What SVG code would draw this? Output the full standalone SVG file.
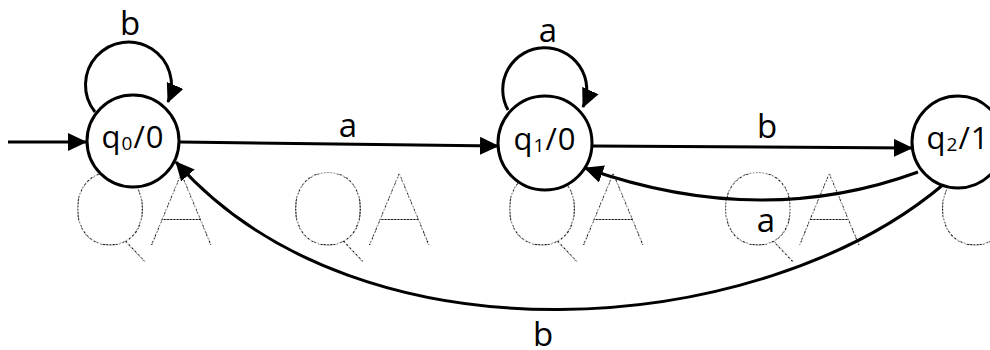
<svg xmlns="http://www.w3.org/2000/svg" width="990" height="350" viewBox="0 0 990 350">
<style>
.wm{font-family:"Lato","Roboto","Inter",sans-serif;font-weight:100;font-size:102px;fill:url(#dots)}
.st{fill:#fff;stroke:#000;stroke-width:3}
.lb{font-family:"Open Sans","Noto Sans",sans-serif;font-size:33px;fill:#000;text-anchor:middle}
.sl{font-family:"Open Sans","Noto Sans",sans-serif;font-size:31px;fill:#000;text-anchor:middle;letter-spacing:1px}
.sub{font-size:19px}
.e{fill:none;stroke:#000;stroke-width:3}
</style>
<defs>
<pattern id="dots" patternUnits="userSpaceOnUse" width="3.2" height="3.2">
<circle cx="1.6" cy="1.6" r="1.3" fill="#111"/>
</pattern>
<marker id="ah" markerUnits="userSpaceOnUse" markerWidth="20" markerHeight="18" refX="18" refY="9" orient="auto">
<path d="M0,0 L19,9 L0,18 Z" fill="#000"/>
</marker>
</defs>
<rect width="990" height="350" fill="#fff"/>
<g id="watermark">
<text class="wm" x="-146" y="245">QA</text>
<text class="wm" x="70" y="245">QA</text>
<text class="wm" x="288" y="245">QA</text>
<text class="wm" x="502" y="245">QA</text>
<text class="wm" x="718" y="245">QA</text>
<text class="wm" x="935" y="245">QA</text>
</g>
<g id="connectors">
<path class="e" d="M8,142 L86,142" marker-end="url(#ah)"/>
<path class="e" d="M180,142 L498,146" marker-end="url(#ah)"/>
<path class="e" d="M592,146 L912,148" marker-end="url(#ah)"/>
<path class="e" d="M918,172 Q760,230 585,168" marker-end="url(#ah)"/>
<path class="e" d="M944,184 C760,340 360,370 176,162" marker-end="url(#ah)"/>
<path class="e" d="M95,112 A43 43 0 1 1 168,102" marker-end="url(#ah)"/>
<path class="e" d="M508,110 A42 42 0 1 1 583,107" marker-end="url(#ah)"/>
<text class="lb" x="130" y="35">b</text>
<text class="lb" x="548" y="42">a</text>
<text class="lb" x="348" y="137">a</text>
<text class="lb" x="767" y="138">b</text>
<text class="lb" x="766" y="232">a</text>
<text class="lb" x="543" y="346">b</text>
</g>
<g id="q0">
<circle class="st" cx="133" cy="141" r="46"/>
<text class="sl" x="133" y="148">q<tspan class="sub" dy="2">0</tspan><tspan dy="-2">/0</tspan></text>
</g>
<g id="q1">
<circle class="st" cx="545" cy="143" r="47"/>
<text class="sl" x="545" y="150">q<tspan class="sub" dy="2">1</tspan><tspan dy="-2">/0</tspan></text>
</g>
<g id="q2">
<circle class="st" cx="958" cy="142" r="46"/>
<text class="sl" x="958" y="149">q<tspan class="sub" dy="2">2</tspan><tspan dy="-2">/1</tspan></text>
</g>
</svg>
